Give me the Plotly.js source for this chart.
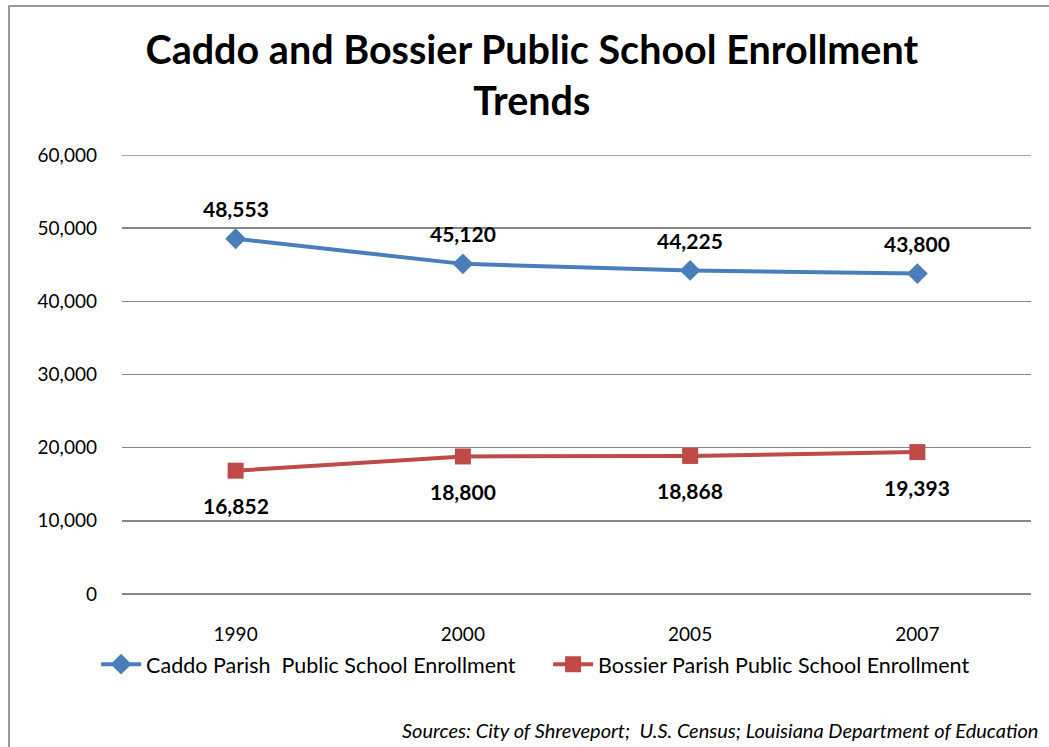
<!DOCTYPE html>
<html><head><meta charset="utf-8">
<script src="https://cdn.plot.ly/plotly-3.0.1.min.js"></script>
<style>
html,body{margin:0;padding:0;background:#fff;overflow:hidden;}
#wrap{position:absolute;left:8px;top:5px;width:1100px;height:800px;border:2px solid #9a9a9a;box-sizing:border-box;}
#chart{position:absolute;left:0;top:0;width:1049px;height:747px;}
</style></head>
<body>
<div id="wrap"></div>
<div id="chart"></div>
<script>
const years = ['1990','2000','2005','2007'];
const caddo = [48553, 45120, 44225, 43800];
const bossier = [16852, 18800, 18868, 19393];
const caddoName = 'Caddo Parish  Public School Enrollment';
const bossierName = 'Bossier Parish Public School Enrollment';
const titleText = 'Caddo and Bossier Public School Enrollment<br>Trends';
const sourceText = 'Sources: City of Shreveport;  U.S. Census; Louisiana Department of Education';

const FONT = 'Lato, "Open Sans", sans-serif';
const fmt = v => v.toLocaleString('en-US');
const idx = years.map((_, i) => i);

const annotations = [];
idx.forEach(i=>{
  annotations.push({x:i, y:caddo[i], xref:'x', yref:'y', text:'<b>'+fmt(caddo[i])+'</b>', showarrow:false, yshift:30, font:{family:FONT,size:21,color:'#000'}});
  annotations.push({x:i, y:bossier[i], xref:'x', yref:'y', text:'<b>'+fmt(bossier[i])+'</b>', showarrow:false, yshift:-35, font:{family:FONT,size:21,color:'#000'}});
});
annotations.push({xref:'paper', yref:'paper', x:1.0095, y:(594-730)/439, xanchor:'right', yanchor:'middle', text:'<i>'+sourceText+'</i>', showarrow:false, font:{family:FONT,size:20,color:'#000'}});

const traces = [
  {x:idx, y:caddo, name:caddoName + '\u00a0\u00a0\u00a0\u00a0\u00a0', type:'scatter', mode:'lines+markers', line:{color:'#4A7EBB', width:4}, marker:{symbol:'diamond', size:16, color:'#4A7EBB'}},
  {x:idx, y:bossier, name:bossierName, type:'scatter', mode:'lines+markers', line:{color:'#BE4B48', width:4}, marker:{symbol:'square', size:16, color:'#BE4B48'}}
];

const layout = {
  width:1049, height:747,
  margin:{l:122, r:18, t:155, b:153},
  paper_bgcolor:'rgba(0,0,0,0)', plot_bgcolor:'rgba(0,0,0,0)',
  font:{family:FONT, color:'#000'},
  title:{text:'<b>'+titleText+'</b>', x:0.507, xanchor:'center', y:1-64/747, yanchor:'middle', yref:'container', font:{family:FONT, size:39.5, color:'#000'}},
  xaxis:{range:[-0.5,3.5], tickvals:idx, ticktext:years, showgrid:false, zeroline:false, showline:false, ticks:'', ticklabelstandoff:27, tickfont:{family:FONT,size:19,color:'#000'}},
  yaxis:{range:[0,60000], tickvals:[0,10000,20000,30000,40000,50000,60000], ticktext:['0','10,000','20,000','30,000','40,000','50,000','60,000'], showgrid:true, gridcolor:'#868686', gridwidth:1.5, zeroline:true, zerolinecolor:'#868686', zerolinewidth:1.5, showline:false, ticks:'', ticklabelstandoff:24, tickfont:{family:FONT,size:19,color:'#000'}},
  shapes:[{type:'line', xref:'paper', yref:'y', x0:0, x1:1, y0:60000, y1:60000, line:{color:'#868686', width:1.5}, layer:'below'}],
  showlegend:true,
  legend:{orientation:'h', x:0.455, xanchor:'center', y:-0.16, yanchor:'middle', font:{family:FONT,size:21.5,color:'#000'}, itemwidth:40, tracegroupgap:0, bgcolor:'rgba(0,0,0,0)'},
  annotations:annotations
};
Plotly.newPlot('chart', traces, layout, {displayModeBar:false, staticPlot:true});
</script>
</body></html>
